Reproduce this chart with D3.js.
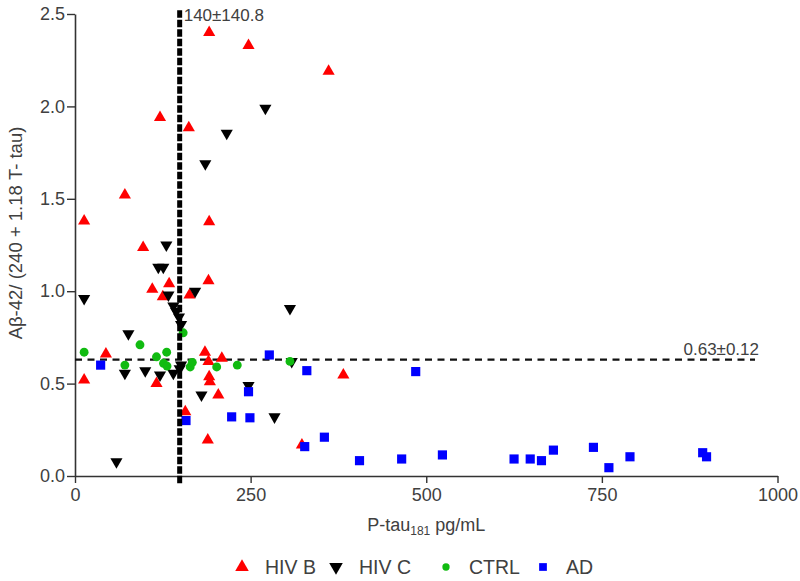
<!DOCTYPE html>
<html>
<head>
<meta charset="utf-8">
<script src="https://cdn.jsdelivr.net/npm/d3@7"></script>
<style>
  html, body { margin: 0; padding: 0; background: #fff; }
  svg { display: block; font-family: "Liberation Sans", Arial, sans-serif; }
</style>
</head>
<body>
<svg id="chart" width="800" height="581"></svg>
<script>
// ---- data ----
const hivB = [
  [191, 2.40], [247, 2.33], [361, 2.19], [121, 1.94], [162, 1.885], [71, 1.52],
  [13, 1.38], [191, 1.376], [97, 1.237], [190, 1.057], [110, 1.01], [134, 1.04],
  [125, 0.97], [163, 0.98], [44, 0.66], [185, 0.67], [209, 0.637], [190, 0.62],
  [13, 0.52], [116, 0.50], [191, 0.537], [192, 0.51], [382, 0.546], [204, 0.438],
  [157, 0.348], [189, 0.195], [323, 0.168]
];
const hivC = [
  [271, 1.99], [216, 1.855], [185.5, 1.69], [130, 1.25], [118.6, 1.13], [125.7, 1.13],
  [133, 0.98], [171, 1.0], [13, 0.96], [306, 0.907], [140, 0.92], [144, 0.89],
  [148, 0.86], [151, 0.82], [76, 0.77], [71, 0.556], [100, 0.57], [121, 0.546],
  [140, 0.556], [149, 0.58], [151, 0.60], [308.5, 0.62], [247, 0.49], [180, 0.438],
  [284, 0.32], [59, 0.077]
];
const ctrl = [
  [13, 0.67], [92.5, 0.71], [71, 0.60], [116, 0.645], [130.5, 0.67], [126, 0.61],
  [131, 0.595], [154, 0.775], [164, 0.59], [167, 0.615], [201.7, 0.59], [231, 0.60],
  [306, 0.62]
];
const ad = [
  [36.5, 0.60], [158, 0.30], [276.6, 0.655], [330, 0.57], [247, 0.456], [223, 0.32],
  [249, 0.315], [327, 0.159], [355, 0.21], [485, 0.565], [405, 0.083], [465, 0.092],
  [523, 0.114], [625, 0.092], [648, 0.092], [664, 0.083], [681, 0.14], [738, 0.155],
  [760, 0.045], [790, 0.104], [893.5, 0.126], [899, 0.104]
];
const xTicks = [0, 250, 500, 750, 1000];
const yTicks = [0, 0.5, 1.0, 1.5, 2.0, 2.5];
const refX = 149;          // vertical reference (P-tau cut-off)
const refXLabel = "140±140.8";
const refY = 0.63;         // horizontal reference
const refYEnd = 968;
const refYLabel = "0.63±0.12";
const legendNames = ["HIV B", "HIV C", "CTRL", "AD"];

// ---- layout ----
const svg = d3.select("#chart");
const x = d3.scaleLinear().domain([0, 1000]).range([75, 777.5]);
const y = d3.scaleLinear().domain([0, 2.5]).range([476, 14]);
const textCol = "#404040";
const axisCol = "#333";

const series = [
  { name: legendNames[0], data: hivB, color: "#ff0000", type: d3.symbolTriangle, size: 64, rot: 0 },
  { name: legendNames[1], data: hivC, color: "#000000", type: d3.symbolTriangle, size: 64, rot: 180 },
  { name: legendNames[2], data: ctrl, color: "#11bb11", type: d3.symbolCircle, size: 62, rot: 0 },
  { name: legendNames[3], data: ad, color: "#0000ff", type: d3.symbolSquare, size: 84, rot: 0 }
];

// axes
const xAxis = svg.append("g").attr("transform", `translate(0,${y(0)})`)
  .call(d3.axisBottom(x).tickValues(xTicks).tickSize(7).tickSizeOuter(0).tickFormat(d3.format("d")));
const yAxis = svg.append("g").attr("transform", `translate(${x(0)},0)`)
  .call(d3.axisLeft(y).tickValues(yTicks).tickSize(8).tickSizeOuter(0).tickFormat(d3.format(".1f")));
[xAxis, yAxis].forEach(g => {
  g.select(".domain").attr("stroke", axisCol).attr("stroke-width", 1.6);
  g.selectAll(".tick line").attr("stroke", axisCol).attr("stroke-width", 1.4);
  g.selectAll(".tick text").attr("fill", textCol).attr("font-size", 18)
    .attr("font-family", "'Liberation Sans', Arial, sans-serif");
});
xAxis.selectAll(".tick text").attr("dy", "0.71em").attr("y", 12);
yAxis.selectAll(".tick text").attr("x", -10);

// horizontal reference line
svg.append("line")
  .attr("x1", x(0)).attr("x2", x(refYEnd))
  .attr("y1", y(refY)).attr("y2", y(refY))
  .attr("stroke", "#111").attr("stroke-width", 2.2).attr("stroke-dasharray", "7,5.5");
svg.append("text")
  .attr("x", x(refYEnd) + 4).attr("y", y(refY) - 5)
  .attr("text-anchor", "end").attr("font-size", 17).attr("fill", textCol)
  .text(refYLabel);

// points
series.forEach(s => {
  const sym = d3.symbol().type(s.type).size(s.size);
  svg.append("g").selectAll("path").data(s.data).enter().append("path")
    .attr("d", sym)
    .attr("transform", d => `translate(${x(d[0])},${y(d[1])}) rotate(${s.rot})`)
    .attr("fill", s.color);
});

// vertical reference line (drawn on top)
svg.append("line")
  .attr("x1", x(refX)).attr("x2", x(refX))
  .attr("y1", y(2.52)).attr("y2", y(0) + 9)
  .attr("stroke", "#000").attr("stroke-width", 5).attr("stroke-dasharray", "7.5,2");
svg.append("text")
  .attr("x", x(refX) + 4).attr("y", 21)
  .attr("font-size", 17).attr("fill", textCol)
  .text(refXLabel);

// axis titles
svg.append("text")
  .attr("transform", `translate(22,${(y(0) + y(2.5)) / 2 - 12}) rotate(-90)`)
  .attr("text-anchor", "middle").attr("font-size", 18.5).attr("fill", textCol)
  .text("Aβ-42/ (240 + 1.18 T- tau)");
const xt = svg.append("text")
  .attr("x", (x(0) + x(1000)) / 2).attr("y", 531)
  .attr("text-anchor", "middle").attr("font-size", 18).attr("fill", textCol);
xt.append("tspan").text("P-tau");
xt.append("tspan").attr("font-size", 12).attr("dy", 4).text("181");
xt.append("tspan").attr("dy", -4).text(" pg/mL");

// legend
const legX = [242, 336, 446, 543];
const legY = 567;
series.forEach((s, i) => {
  const sym = d3.symbol().type(s.type).size(s.type === d3.symbolTriangle ? 80 : (s.type === d3.symbolCircle ? 42 : 60));
  svg.append("path").attr("d", sym)
    .attr("transform", `translate(${legX[i]},${legY}) rotate(${s.rot})`)
    .attr("fill", s.color);
  svg.append("text").attr("x", legX[i] + 23).attr("y", legY + 7)
    .attr("font-size", 19.5).attr("fill", textCol).text(s.name);
});
</script>
</body>
</html>
